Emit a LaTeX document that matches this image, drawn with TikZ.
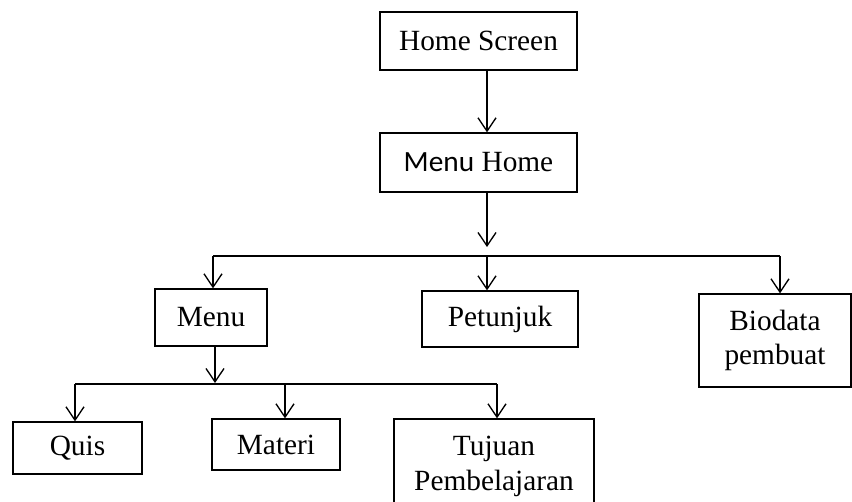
\documentclass[tikz,border=0pt]{standalone}
\usepackage{fontspec}
\setmainfont{Liberation Serif}
\newfontfamily\carlito{Carlito}
\usepackage{tikz}
\usetikzlibrary{arrows.meta}
\tikzstyle{Kotak}= [rectangle,draw,line width=1pt,inner sep=0pt,align=center,font=\fontsize{22}{26}\selectfont]
\tikzstyle{Panah}= [line width=1pt,-{Straight Barb[length=10pt,width=13.5pt]}]

\begin{document}
\begin{tikzpicture}[x=0.75pt,y=-0.75pt]

		\useasboundingbox (0,0) rectangle (852,501);
		\clip (0,0) rectangle (852,501);

		\node [Kotak,minimum width=147.75pt,minimum height=43.5pt] (0) at (478.5,41) {Home Screen};
		\node [Kotak,minimum width=147.75pt,minimum height=44.25pt] (1) at (478.5,162.5) {{\carlito Menu} Home};
		\node [Kotak,minimum width=84pt,minimum height=42.75pt] (2) at (211,317.5) {Menu};
		\node [Kotak,minimum width=117pt,minimum height=42pt] (3) at (500,319) {Petunjuk};
		\node [Kotak,minimum width=114pt,minimum height=69.75pt] (4) at (775,340.5) {Biodata\\pembuat};
		\node [Kotak,minimum width=96.75pt,minimum height=39pt] (5) at (77.5,448) {Quis};
		\node [Kotak,minimum width=96pt,minimum height=38.25pt] (6) at (276,444.5) {Materi};
		\node [Kotak,minimum width=150pt,minimum height=71.25pt] (7) at (494,466.5) {Tujuan\\Pembelajaran};

		\coordinate (a) at (487,247);
		\coordinate (b1) at (213,256);
		\coordinate (b2) at (780,256);
		\coordinate (c) at (215,383);
		\coordinate (c1) at (75,384);
		\coordinate (c2) at (497,384);
		\coordinate (c3) at (285,384);

		\draw[Panah]
		(0.south -| a) -- (1.north -| a);
		\draw[Panah]
		(1.south -| a) -- (a);
		\draw[line width=1pt]
		(b1) -- (b2);
		\draw[Panah]
		(b1) -- (2.north -| b1);
		\draw[Panah]
		(a |- b1) -- (3.north -| a);
		\draw[Panah]
		(b2) -- (4.north -| b2);
		\draw[Panah]
		(2.south -| c) -- (c);
		\draw[line width=1pt]
		(c1) -- (c2);
		\draw[Panah]
		(c1) -- (5.north -| c1);
		\draw[Panah]
		(c3) -- (6.north -| c3);
		\draw[Panah]
		(c2) -- (7.north -| c2);
		;

	\end{tikzpicture}
\end{document}
